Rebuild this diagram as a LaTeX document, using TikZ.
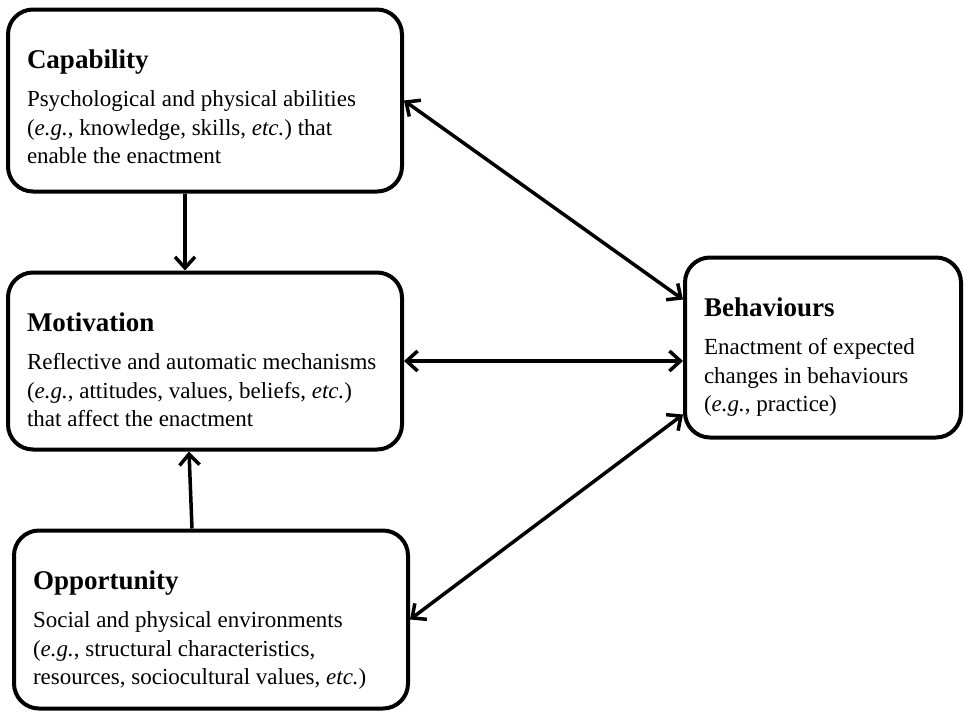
\documentclass[tikz,border=0pt]{standalone}
\usepackage{fontspec}
\setmainfont{Liberation Serif}
\usepackage{tikz}
\usetikzlibrary{positioning, arrows.meta}
\newcommand{\blocktitle}[1]{{\fontsize{27}{28.5}\selectfont\bfseries #1}\\[9.5pt]}
\tikzstyle{block} = [rectangle, rounded corners=25pt, draw=black, line width=4pt, align=flush left, text width=374pt, inner xsep=10pt, inner ysep=20pt, text height=39pt, text depth=103pt, font=\fontsize{23}{28.5}\selectfont\frenchspacing, execute at begin node={\leftskip=9pt\relax}]
\tikzstyle{arrow} = [line width=3.5pt, ->, >={Straight Barb[length=11pt,width=20pt]}]

\begin{document}
\begin{tikzpicture}[x=1pt, y=1pt, node distance=77pt]
        \useasboundingbox (0,0) rectangle (965,-712);
        % blocks
        \node [block] (cap) at (205,-100.5) {\blocktitle{Capability}Psychological and physical abilities\\(\textit{e.g.}, knowledge, skills, \textit{etc.}) that\\enable the enactment};
        \node [block, below=of cap, text depth=98pt] (mot) {\blocktitle{Motivation}Reflective and automatic mechanisms\\(\textit{e.g.}, attitudes, values, beliefs, \textit{etc.})\\that affect the enactment};
        \node [block, below=of mot, xshift=6pt, text depth=99pt] (opp) {\blocktitle{Opportunity}Social and physical environments\\(\textit{e.g.}, structural characteristics,\\resources, sociocultural values, \textit{etc.})};
        \node [block, right=279pt of mot, yshift=13.5pt, text width=256pt, text depth=101pt] (beh) {\blocktitle{Behaviours}Enactment of expected\\changes in behaviours\\(\textit{e.g.}, practice)};

        % arrows
        \draw [arrow] ([xshift=-20pt]cap.south) -- ([xshift=-20pt]mot.north);
        \draw [arrow] ([xshift=-19pt]opp.north) -- ([xshift=-16pt]mot.south);
        \draw [arrow, <->] (cap.east) -- ([yshift=48pt]beh.west);
        \draw [arrow, <->] (mot.east) -- (mot.east -| beh.west);
        \draw [arrow, <->] (opp.east) -- ([yshift=-67pt]beh.west);
\end{tikzpicture}
\end{document}
